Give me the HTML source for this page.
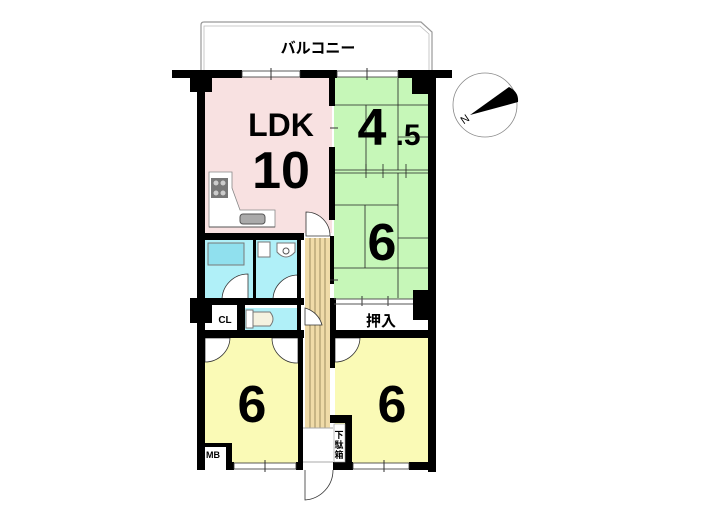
<!DOCTYPE html>
<html><head><meta charset="utf-8"><style>
html,body{margin:0;padding:0;background:#fff;}
svg{display:block;}
text{font-family:"Liberation Sans","Noto Sans CJK JP",sans-serif;}
</style></head><body>
<svg width="705" height="525" viewBox="0 0 705 525" xmlns="http://www.w3.org/2000/svg">
<path d="M201 70 V25 Q201 22 204 22 H421 L432 32 V70" fill="#fff" stroke="#999" stroke-width="1.2"/>
<path d="M204 70 V26 H420 L429 34 V70" fill="none" stroke="#bbb" stroke-width="0.8"/>
<text x="318" y="53" font-size="15" font-weight="bold" text-anchor="middle" fill="#000">バルコニー</text>

<rect x="205" y="76" width="127" height="157" fill="#f8e1e1"/>
<rect x="334" y="76" width="96" height="223" fill="#c6f7b8"/>
<rect x="334" y="305" width="96" height="26" fill="#fff"/>
<rect x="205" y="240" width="48" height="60" fill="#b0f0f8"/>
<rect x="256" y="240" width="44" height="60" fill="#b0f0f8"/>
<rect x="245" y="308" width="55" height="22" fill="#b0f0f8"/>
<rect x="205" y="338" width="93" height="126" fill="#fafab6"/>
<rect x="335" y="338" width="94" height="128" fill="#fafab6"/>
<rect x="305" y="238" width="25" height="190" fill="#f0dba8"/>
<g stroke="#8a7a50" stroke-width="0.8">
<line x1="310" y1="238" x2="310" y2="428"/><line x1="315" y1="238" x2="315" y2="428"/>
<line x1="320" y1="238" x2="320" y2="428"/><line x1="325" y1="238" x2="325" y2="428"/>
</g>
<rect x="303" y="428" width="30" height="42" fill="#fff"/>
<line x1="303" y1="428" x2="333" y2="428" stroke="#aaa"/>
<line x1="303" y1="462" x2="333" y2="462" stroke="#aaa"/>

<g stroke="#222" stroke-width="0.8" fill="none">
<line x1="334" y1="105" x2="430" y2="105"/>
<line x1="398" y1="78" x2="398" y2="170"/>
<line x1="366" y1="105" x2="366" y2="170"/>
<line x1="398" y1="137" x2="430" y2="137"/>
<line x1="334" y1="170" x2="430" y2="170"/>
<line x1="334" y1="173" x2="430" y2="173"/>
<line x1="398" y1="173" x2="398" y2="298"/>
<line x1="334" y1="205" x2="398" y2="205"/>
<line x1="365" y1="205" x2="365" y2="268"/>
<line x1="334" y1="268" x2="430" y2="268"/>
<line x1="398" y1="238" x2="430" y2="238"/>
<line x1="366" y1="164" x2="366" y2="178"/><line x1="383" y1="164" x2="383" y2="178"/><line x1="406" y1="164" x2="406" y2="178"/>
</g>

<path d="M209 172 H232 V188 L240 210 H275 V227 H209 Z" fill="#fff" stroke="#888" stroke-width="0.8"/>
<rect x="211" y="178" width="17" height="20" fill="#777"/>
<g fill="#ccc"><circle cx="216" cy="183" r="2.5"/><circle cx="223" cy="183" r="2.5"/><circle cx="216" cy="193" r="2.5"/><circle cx="223" cy="193" r="2.5"/></g>
<rect x="240" y="214" width="25" height="10" rx="3" fill="#aaa" stroke="#555"/>
<line x1="209" y1="227" x2="275" y2="227" stroke="#555"/>

<rect x="208" y="243" width="36" height="22" fill="#90e0ee" stroke="#777"/>
<rect x="258" y="242" width="12" height="15" fill="#fff" stroke="#777"/>
<path d="M277 243 H295 V252 Q286 262 277 252 Z" fill="#fff" stroke="#777"/>
<circle cx="286" cy="251" r="3" fill="none" stroke="#555"/>
<rect x="246" y="310" width="7" height="18" fill="#fff" stroke="#777"/>
<path d="M253 312 H270 Q276 319 270 326 H253 Z" fill="#f5f2e0" stroke="#777"/>

<g fill="#fff" stroke="#333" stroke-width="0.8">
<path d="M222 300 A26 26 0 0 1 248 274 V300 Z"/>
<path d="M273 300 A25 25 0 0 1 298 275 V300 Z"/>
<path d="M306 212 A24 24 0 0 1 330 236 H306 Z"/>
<path d="M305 308 A24 24 0 0 1 322 325 H305 Z"/>
<path d="M205 362 A25 25 0 0 0 230 338 H205 Z"/>
<path d="M272 338 A25 25 0 0 0 298 363 V338 Z"/>
<path d="M335 362 A25 25 0 0 0 360 338 H335 Z"/>
<path d="M305 470 V500 A30 30 0 0 0 333 470"/>
</g>

<g fill="#000">
<rect x="172" y="70" width="70" height="8"/>
<rect x="300" y="70" width="37" height="8"/>
<rect x="398" y="70" width="54" height="8"/>
<rect x="190" y="70" width="22" height="22"/>
<rect x="412" y="70" width="20" height="24"/>
<rect x="197" y="70" width="8" height="400"/>
<rect x="428" y="70" width="8" height="402"/>
<rect x="329" y="76" width="6" height="30"/>
<rect x="329" y="147" width="6" height="73"/>
<rect x="330" y="236" width="4" height="48"/>
<rect x="197" y="233" width="107" height="7"/>
<rect x="253" y="240" width="3" height="60"/>
<rect x="297" y="240" width="4" height="60"/>
<rect x="190" y="298" width="114" height="7"/>
<rect x="190" y="298" width="22" height="25"/>
<rect x="237" y="305" width="8" height="25"/>
<rect x="297" y="305" width="4" height="25"/>
<rect x="197" y="330" width="107" height="8"/>
<rect x="330" y="298" width="6" height="40"/>
<rect x="330" y="330" width="106" height="8"/>
<rect x="413" y="290" width="23" height="30"/>
<rect x="298" y="338" width="5" height="132"/>
<rect x="330" y="338" width="5" height="30"/>
<rect x="330" y="415" width="22" height="8"/>
<rect x="345" y="415" width="7" height="55"/>
<rect x="333" y="462" width="20" height="8"/>
<rect x="205" y="443" width="25" height="4"/>
<rect x="226" y="443" width="6" height="27"/>
<rect x="226" y="462" width="8" height="8"/>
<rect x="296" y="462" width="7" height="8"/>
<rect x="409" y="462" width="27" height="8"/>
</g>
<rect x="205" y="447" width="21" height="23" fill="#fff"/>
<rect x="334" y="424" width="11" height="38" fill="#fff" stroke="#999" stroke-width="0.6"/>
<g fill="#fff" stroke="#333" stroke-width="0.8">
<rect x="242" y="71" width="58" height="6"/><rect x="337" y="71" width="61" height="6"/>
<rect x="234" y="463" width="62" height="6"/><rect x="353" y="463" width="56" height="6"/>
</g>
<g stroke="#333" stroke-width="1">
<line x1="271" y1="68" x2="271" y2="80"/><line x1="367" y1="68" x2="367" y2="80"/>
<line x1="265" y1="460" x2="265" y2="472"/><line x1="384" y1="460" x2="384" y2="472"/>
<line x1="330" y1="128" x2="338" y2="128"/><line x1="330" y1="280" x2="338" y2="280"/>
<line x1="362" y1="296" x2="362" y2="306"/><line x1="388" y1="296" x2="388" y2="306"/>
</g>
<line x1="334" y1="299" x2="413" y2="299" stroke="#555"/><line x1="334" y1="304" x2="413" y2="304" stroke="#555"/>

<g font-weight="bold">
<text x="281" y="136" font-size="32" text-anchor="middle">LDK</text>
<text x="281" y="188" font-size="52" text-anchor="middle">10</text>
<text x="372" y="145" font-size="52" text-anchor="middle">4</text>
<text x="408" y="145" font-size="30" text-anchor="middle">.5</text>
<text x="382" y="260" font-size="52" text-anchor="middle">6</text>
<text x="252" y="422" font-size="52" text-anchor="middle">6</text>
<text x="392" y="422" font-size="52" text-anchor="middle">6</text>
<text x="381" y="326" font-size="15" text-anchor="middle">押入</text>
<text x="225" y="323" font-size="10" text-anchor="middle">CL</text>
<text x="213" y="458" font-size="9" text-anchor="middle">MB</text>
<text x="339" y="438" font-size="9" text-anchor="middle">下</text>
<text x="339" y="448" font-size="9" text-anchor="middle">駄</text>
<text x="339" y="458" font-size="9" text-anchor="middle">箱</text>
</g>

<circle cx="485" cy="105" r="32" fill="none" stroke="#888" stroke-width="0.8"/>
<path d="M470 115 L509 87 Q519 92 518 102 Z" fill="#000"/>
<text x="462" y="125" font-size="11" transform="rotate(-35 462 122)">N</text>
</svg>
</body></html>
